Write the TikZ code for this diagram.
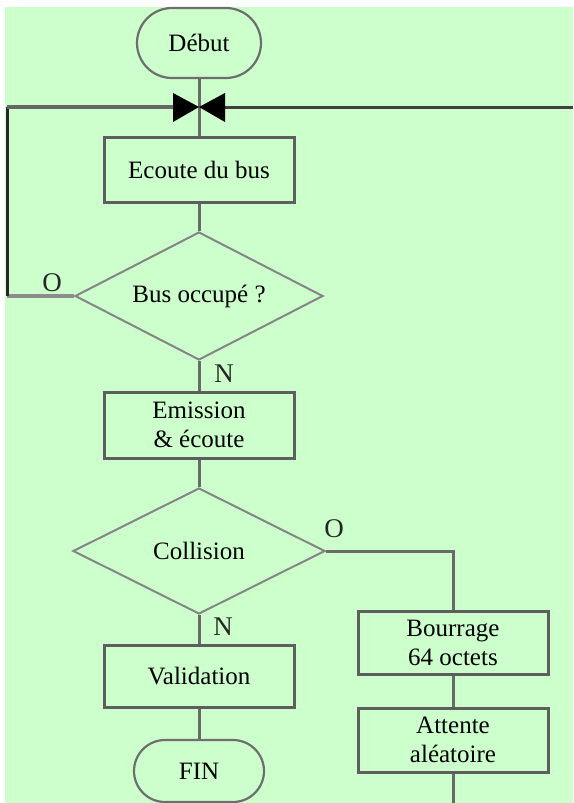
\documentclass[tikz,border=0pt]{standalone}
\usepackage{fontspec}
\setmainfont{Liberation Serif}
\usetikzlibrary{shapes.geometric,shapes.misc}
\definecolor{bgreen}{HTML}{CCFFCC}
\definecolor{boxcol}{HTML}{5E5E5E}
\definecolor{diacol}{HTML}{858585}
\definecolor{termcol}{HTML}{6E6E6E}
\definecolor{linecol}{HTML}{6A6A6A}
\begin{document}
\begin{tikzpicture}[x=1pt,y=-1pt,
  txt/.style={font=\fontsize{25}{29}\selectfont, align=center, text=black},
  procbox/.style={txt, rectangle, draw=boxcol, line width=3pt, fill=bgreen,
    minimum width=190pt, inner sep=0pt},
  decision/.style={txt, diamond, draw=diacol, line width=2pt, fill=bgreen,
    inner sep=0pt, shape aspect=2},
  termin/.style={txt, rounded rectangle, draw=termcol, line width=2.2pt, fill=bgreen,
    inner sep=0pt},
  conn/.style={draw=linecol, line width=3pt},
  lbl/.style={font=\fontsize{27}{29}\selectfont, text=black!85, inner sep=0pt}]
\useasboundingbox (0,0) rectangle (573,803);
\fill[white] (0,0) rectangle (573,803);
\fill[bgreen] (5,7) rectangle (573,803);

\coordinate (merge) at (199,107);
\coordinate (ml) at (173,107);
\coordinate (mr) at (225,107);
\coordinate (lt) at (7,107);
\coordinate (lb) at (7,296);
\coordinate (re) at (573,107);
\coordinate (bot) at (453,803);

\node[termin, minimum width=124pt, minimum height=70pt] (debut) at (199,43) {Début};
\node[procbox, minimum height=65pt] (ecoute) at (199,170) {Ecoute du bus};
\node[decision, minimum width=248pt, minimum height=128pt] (occ) at (199,296) {Bus occupé ?};
\node[procbox, minimum height=66pt] (emis) at (199,425) {Emission\\\& écoute};
\node[decision, minimum width=252pt, minimum height=126pt] (coll) at (199,551) {Collision};
\node[procbox, minimum height=62pt] (valid) at (199,676) {Validation};
\node[termin, minimum width=130pt, minimum height=62pt] (fin) at (199,771) {FIN};
\node[procbox, minimum height=63pt] (bour) at (453,643) {Bourrage\\64 octets};
\node[procbox, minimum height=64pt] (att) at (453,740) {Attente\\aléatoire};

\draw[conn] (debut.south) -- (merge);
\draw[conn] (merge) -- (ecoute.north);
\draw[conn] (ecoute.south) -- (occ.north);
\draw[conn] (occ.south) -- (emis.north);
\draw[conn] (emis.south) -- (coll.north);
\draw[conn] (coll.south) -- (valid.north);
\draw[conn] (valid.south) -- (fin.north);
\draw[conn] (coll.east) -| (bour.north);
\draw[conn] (bour.south) -- (att.north);
\draw[conn] (att.south) -- (bot);
\draw[draw=black!45, line width=4pt] (occ.west) -- (lb);
\draw[draw=black!85, line width=3pt] (lb) -- (lt);
\draw[draw=black!60, line width=4pt] (lt) -- (ml);
\draw[draw=black!75, line width=3pt] (mr) -- (re);

% merge symbol (bow tie)
\fill[black] (173,93) -- (173,122) -- (merge) -- cycle;
\fill[black] (225,93) -- (225,122) -- (merge) -- cycle;

% branch labels
\node[lbl] (o1) at (52,283) {O};
\node[lbl] (n1) at (224,374) {N};
\node[lbl] (o2) at (334,529) {O};
\node[lbl] (n2) at (223,627) {N};
\end{tikzpicture}
\end{document}
